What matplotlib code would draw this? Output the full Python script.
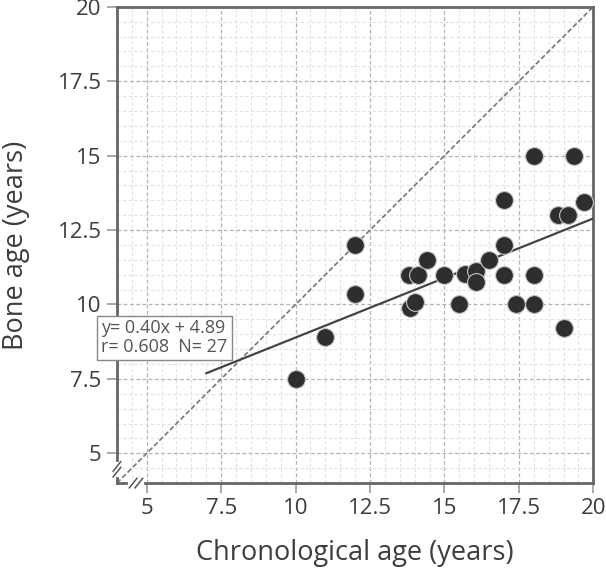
import numpy as np
import matplotlib
matplotlib.use("Agg")
import matplotlib.pyplot as plt
from matplotlib.ticker import MultipleLocator

plt.rcParams.update({
    'font.family': ['Open Sans', 'DejaVu Sans'],
})

# chronological age (x) vs bone age (y)
chrono_age = [10, 11, 12, 12, 13.8, 14.1, 14.4, 13.85, 14.0, 15, 15.5, 15.7, 16.05,
              16.05, 16.5, 17, 17, 17, 17.4, 18, 18, 18, 19, 18.8, 19.15, 19.35, 19.7]
bone_age = [7.5, 8.9, 12.0, 10.35, 11.0, 11.0, 11.5, 9.87, 10.07, 11.0, 10.0, 11.03, 11.12,
            10.75, 11.5, 12.0, 13.5, 11.0, 10.0, 15.0, 11.0, 10.0, 9.2, 13.0, 13.0, 15.0, 13.45]

slope, intercept = 0.40, 4.89
fit_x = [7, 20]
ident = [4, 20]
ticks = [5, 7.5, 10, 12.5, 15, 17.5, 20]
tick_labels = ['5', '7.5', '10', '12.5', '15', '17.5', '20']

fig = plt.figure(figsize=(6.06, 5.69), dpi=100)
ax = fig.add_axes([0.193, 0.151, 0.786, 0.837])

ax.set_xlim(4, 20)
ax.set_ylim(4, 20)
ax.xaxis.set_minor_locator(MultipleLocator(0.5))
ax.yaxis.set_minor_locator(MultipleLocator(0.5))
ax.set_xticks(ticks)
ax.set_xticklabels(tick_labels)
ax.set_yticks(ticks)
ax.set_yticklabels(tick_labels)

ax.grid(which='minor', color='#e2e2e2', linestyle=(0, (3, 2)), linewidth=0.8)
ax.grid(which='major', color='#b3b3b3', linestyle=(0, (3, 2)), linewidth=0.9)
ax.set_axisbelow(True)

ax.tick_params(which='major', direction='out', length=7, width=1.2, color='#999999',
               labelsize=16, labelcolor='#3d3d3d', pad=4)
ax.tick_params(which='minor', length=0)
for sp in ax.spines.values():
    sp.set_color('#666666')
    sp.set_linewidth(2)

ax.plot(ident, ident, color='#777777', linestyle=(0, (3, 1.5)), linewidth=1.2, zorder=2)
fit_y = [slope * v + intercept for v in fit_x]
ax.plot(fit_x, fit_y, color='#444444', linewidth=1.6, zorder=3)

ax.scatter(chrono_age, bone_age, s=165, color='#2e2e2e', edgecolors='#c4c4c4',
           linewidths=0.8, zorder=4)

ax.set_xlabel('Chronological age (years)', fontsize=19.5, color='#3d3d3d', labelpad=14)
ax.set_ylabel('Bone age (years)', fontsize=19.5, color='#3d3d3d', labelpad=20)

ax.text(0.100, 0.305, 'y= 0.40x + 4.89\nr= 0.608  N= 27', transform=ax.transAxes,
        ha='center', va='center', multialignment='left', fontsize=13, color='#555555',
        linespacing=1.05, zorder=6, clip_on=False,
        bbox=dict(boxstyle='square,pad=0.22', fc='white', ec='#888888', lw=1))

# axis break marks
def brk(x0, y0, horizontal):
    if horizontal:
        ax.plot([x0 - 0.012, x0 + 0.012], [y0, y0], color='white', lw=3,
                transform=ax.transAxes, clip_on=False, zorder=7)
        for dx in (-0.006, 0.006):
            ax.plot([x0 + dx - 0.008, x0 + dx + 0.008], [y0 - 0.01, y0 + 0.01],
                    color='#555555', lw=1.1, transform=ax.transAxes, clip_on=False, zorder=8)
    else:
        ax.plot([x0, x0], [y0 - 0.012, y0 + 0.012], color='white', lw=3,
                transform=ax.transAxes, clip_on=False, zorder=7)
        for dy in (-0.006, 0.006):
            ax.plot([x0 - 0.008, x0 + 0.008], [y0 + dy - 0.01, y0 + dy + 0.01],
                    color='#555555', lw=1.1, transform=ax.transAxes, clip_on=False, zorder=8)

brk(0.0, 0.029, False)
brk(0.04, 0.0, True)

fig.savefig('out.png', dpi=100)
